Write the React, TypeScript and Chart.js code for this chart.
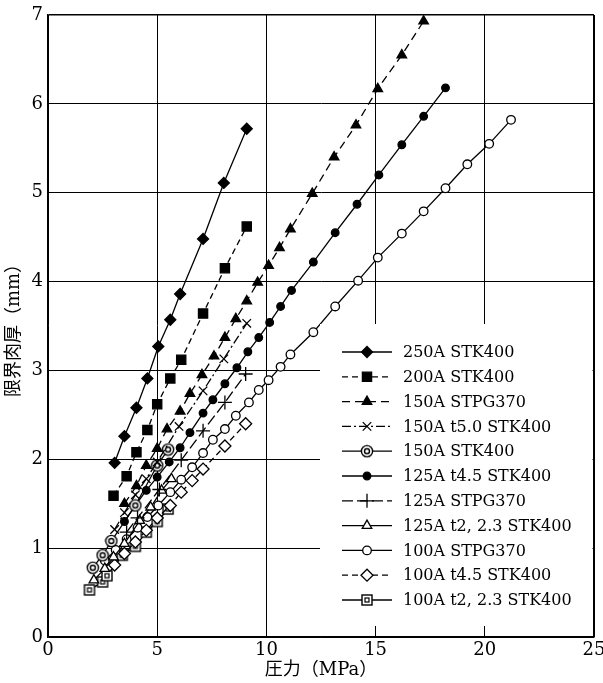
import React, { useEffect, useRef } from "react";
import { Chart, registerables } from "chart.js";
import { drawPoint } from "chart.js/helpers";

Chart.register(...registerables);

// ---- axis ticks ----
const X_MIN = 0;
const X_MAX = 25;
const X_STEP = 5;
const Y_MIN = 0;
const Y_MAX = 7;
const Y_STEP = 1;
const X_TITLE = "圧力（MPa）";
const Y_TITLE = "限界肉厚（mm）";

// ---- series labels ----
const LABELS = [
  "250A STK400",
  "200A STK400",
  "150A STPG370",
  "150A t5.0 STK400",
  "150A STK400",
  "125A t4.5 STK400",
  "125A STPG370",
  "125A t2, 2.3 STK400",
  "100A STPG370",
  "100A t4.5 STK400",
  "100A t2, 2.3 STK400",
];

// ---- series values (pressure MPa, thickness mm) ----
const x250 = [3.05, 3.5, 4.05, 4.55, 5.05, 5.6, 6.05, 7.1, 8.05, 9.1];
const y250 = [1.96, 2.26, 2.58, 2.91, 3.27, 3.57, 3.86, 4.48, 5.11, 5.72];

const x200 = [3.0, 3.6, 4.05, 4.55, 5.0, 5.6, 6.1, 7.1, 8.1, 9.1];
const y200 = [1.59, 1.81, 2.08, 2.33, 2.62, 2.91, 3.12, 3.64, 4.15, 4.62];

const x150pg = [3.5, 4.05, 4.5, 5.0, 5.45, 6.05, 6.5, 7.05, 7.6, 8.1, 8.6, 9.1, 9.6, 10.1, 10.6, 11.1, 12.1, 13.1, 14.1, 15.1, 16.2, 17.2];
const y150pg = [1.5, 1.7, 1.93, 2.12, 2.34, 2.54, 2.74, 2.95, 3.16, 3.37, 3.58, 3.78, 3.99, 4.18, 4.38, 4.59, 4.99, 5.4, 5.76, 6.17, 6.55, 6.93];

const x150t5 = [3.05, 3.5, 4.0, 4.5, 5.0, 6.0, 7.1, 8.05, 9.1];
const y150t5 = [1.21, 1.4, 1.6, 1.78, 1.97, 2.37, 2.77, 3.13, 3.53];

const x150stk = [2.05, 2.5, 2.9, 4.0, 5.0, 5.5];
const y150stk = [0.78, 0.92, 1.08, 1.48, 1.93, 2.11];

const x125t45 = [3.5, 4.0, 4.5, 5.0, 5.55, 6.05, 6.5, 7.1, 7.55, 8.1, 8.65, 9.15, 9.65, 10.15, 10.65, 11.15, 12.15, 13.15, 14.15, 15.15, 16.2, 17.2, 18.2];
const y125t45 = [1.3, 1.48, 1.65, 1.8, 1.97, 2.13, 2.3, 2.52, 2.67, 2.85, 3.03, 3.21, 3.37, 3.54, 3.72, 3.9, 4.22, 4.55, 4.87, 5.2, 5.54, 5.86, 6.18];

const x125pg = [3.6, 4.1, 5.1, 6.1, 7.1, 8.1, 9.05];
const y125pg = [1.18, 1.34, 1.66, 1.99, 2.32, 2.64, 2.96];

const x125t2 = [2.1, 2.6, 3.0, 3.5, 4.2, 4.7, 5.2, 5.65];
const y125t2 = [0.64, 0.77, 0.9, 1.05, 1.31, 1.46, 1.65, 1.78];

const x100pg = [2.6, 3.1, 3.6, 4.1, 4.55, 5.05, 5.6, 6.1, 6.6, 7.1, 7.55, 8.1, 8.6, 9.2, 9.65, 10.1, 10.65, 11.1, 12.15, 13.15, 14.2, 15.1, 16.2, 17.2, 18.2, 19.2, 20.2, 21.2];
const y100pg = [0.86, 0.98, 1.1, 1.23, 1.35, 1.48, 1.63, 1.77, 1.91, 2.07, 2.22, 2.34, 2.49, 2.64, 2.78, 2.89, 3.04, 3.18, 3.43, 3.72, 4.01, 4.27, 4.54, 4.79, 5.05, 5.32, 5.55, 5.82];

const x100t45 = [3.05, 3.5, 4.0, 4.5, 5.0, 5.6, 6.1, 6.6, 7.1, 8.1, 9.05];
const y100t45 = [0.81, 0.94, 1.07, 1.2, 1.34, 1.48, 1.63, 1.76, 1.89, 2.15, 2.4];

const x100t2 = [1.9, 2.5, 2.7, 3.4, 4.0, 4.5, 5.0, 5.5];
const y100t2 = [0.53, 0.62, 0.69, 0.92, 1.02, 1.18, 1.3, 1.44];

const SERIES_X = [x250, x200, x150pg, x150t5, x150stk, x125t45, x125pg, x125t2, x100pg, x100t45, x100t2];
const SERIES_Y = [y250, y200, y150pg, y150t5, y150stk, y125t45, y125pg, y125t2, y100pg, y100t45, y100t2];

const FONT = '"DejaVu Serif", "Noto Sans CJK JP", serif';

function makeDoubleCircle(): HTMLCanvasElement {
  const c = document.createElement("canvas");
  c.width = 14;
  c.height = 14;
  const g = c.getContext("2d")!;
  g.fillStyle = "#fff";
  g.strokeStyle = "#000";
  g.lineWidth = 1.4;
  g.beginPath();
  g.arc(7, 7, 5.6, 0, Math.PI * 2);
  g.fill();
  g.stroke();
  g.beginPath();
  g.arc(7, 7, 2.5, 0, Math.PI * 2);
  g.stroke();
  return c;
}

function makeDoubleSquare(): HTMLCanvasElement {
  const c = document.createElement("canvas");
  c.width = 14;
  c.height = 14;
  const g = c.getContext("2d")!;
  g.fillStyle = "#fff";
  g.strokeStyle = "#000";
  g.lineWidth = 1.4;
  g.fillRect(2, 2, 10, 10);
  g.strokeRect(2, 2, 10, 10);
  g.lineWidth = 1.2;
  g.strokeRect(5, 5, 4, 4);
  return c;
}

const legendPlugin = {
  id: "boxLegend",
  afterDatasetsDraw(chart: any) {
    const ctx = chart.ctx as CanvasRenderingContext2D;
    const area = chart.chartArea;
    const boxLeft = area.right - 274;
    const boxTop = area.bottom - 313;
    const boxBottom = area.bottom - 11;
    ctx.save();
    ctx.fillStyle = "#fff";
    ctx.fillRect(boxLeft, boxTop, area.right - 1.5 - boxLeft, boxBottom - boxTop);
    const rowTop = boxTop + 28;
    const rowGap = 24.8;
    const lineX0 = boxLeft + 22;
    const lineX1 = boxLeft + 72;
    const textX = boxLeft + 83;
    chart.data.datasets.forEach((ds: any, i: number) => {
      const y = rowTop + i * rowGap;
      ctx.strokeStyle = "#000";
      ctx.lineWidth = 1.3;
      ctx.setLineDash(ds.borderDash || []);
      ctx.beginPath();
      ctx.moveTo(lineX0, y);
      ctx.lineTo(lineX1, y);
      ctx.stroke();
      ctx.setLineDash([]);
      ctx.fillStyle = ds.pointBackgroundColor;
      ctx.strokeStyle = "#000";
      ctx.lineWidth = ds.pointBorderWidth;
      drawPoint(
        ctx,
        { pointStyle: ds.pointStyle, radius: ds.pointRadius, rotation: 0, borderWidth: ds.pointBorderWidth } as any,
        (lineX0 + lineX1) / 2,
        y
      );
      ctx.fillStyle = "#000";
      ctx.font = `16px ${FONT}`;
      ctx.textBaseline = "middle";
      ctx.textAlign = "left";
      ctx.fillText(ds.label, textX, y + 1);
    });
    ctx.restore();
  },
};

export default function App() {
  const ref = useRef<HTMLCanvasElement | null>(null);

  useEffect(() => {
    if (!ref.current) return;
    const dCircle = makeDoubleCircle();
    const dSquare = makeDoubleSquare();

    const styles: any[] = [
      { pointStyle: "rectRot", pointRadius: 5.5, fill: "#000", dash: [] },
      { pointStyle: "rect", pointRadius: 6.5, fill: "#000", dash: [6, 4] },
      { pointStyle: "triangle", pointRadius: 5.5, fill: "#000", dash: [8, 5] },
      { pointStyle: "crossRot", pointRadius: 6, fill: "#000", dash: [9, 3, 2, 3] },
      { pointStyle: dCircle, pointRadius: 6, fill: "#fff", dash: [] },
      { pointStyle: "circle", pointRadius: 3.8, fill: "#000", dash: [] },
      { pointStyle: "cross", pointRadius: 7, fill: "#000", dash: [11, 4] },
      { pointStyle: "triangle", pointRadius: 5.5, fill: "#fff", dash: [] },
      { pointStyle: "circle", pointRadius: 4.3, fill: "#fff", dash: [] },
      { pointStyle: "rectRot", pointRadius: 6, fill: "#fff", dash: [6, 4] },
      { pointStyle: dSquare, pointRadius: 6, fill: "#fff", dash: [] },
    ];

    const datasets = LABELS.map((label, i) => ({
      label,
      data: SERIES_X[i].map((x, j) => ({ x, y: SERIES_Y[i][j] })),
      borderColor: "#000",
      borderWidth: 1.3,
      borderDash: styles[i].dash,
      pointStyle: styles[i].pointStyle,
      pointRadius: styles[i].pointRadius,
      pointBackgroundColor: styles[i].fill,
      pointBorderColor: "#000",
      pointBorderWidth: 1.3,
      showLine: true,
      fill: false,
      tension: 0,
    }));

    const chart = new Chart(ref.current, {
      type: "scatter",
      data: { datasets },
      plugins: [legendPlugin],
      options: {
        animation: false,
        responsive: false,
        devicePixelRatio: 1,
        layout: { padding: { left: 0, top: 15, right: 9, bottom: 0 } },
        plugins: {
          legend: { display: false },
          tooltip: { enabled: false },
        },
        font: { family: FONT },
        scales: {
          x: {
            type: "linear",
            min: X_MIN,
            max: X_MAX,
            ticks: {
              stepSize: X_STEP,
              color: "#000",
              font: { family: FONT, size: 18 },
              padding: 3,
              maxRotation: 0,
            },
            grid: {
              color: "#000",
              lineWidth: (c: any) => (c.tick && c.tick.value === X_MAX ? 2 : 1),
              drawTicks: false,
            },
            border: { color: "#000", width: 1.5 },
            title: {
              display: true,
              text: X_TITLE,
              color: "#000",
              font: { family: FONT, size: 18 },
              padding: { top: 0, bottom: 2 },
            },
            afterFit: (s: any) => {
              s.height = 46;
              s.paddingLeft = 0;
              s.paddingRight = 0;
            },
          } as any,
          y: {
            type: "linear",
            min: Y_MIN,
            max: Y_MAX,
            ticks: {
              stepSize: Y_STEP,
              color: "#000",
              font: { family: FONT, size: 18 },
              padding: 5,
            },
            grid: {
              color: "#000",
              lineWidth: (c: any) => (c.tick && c.tick.value === Y_MAX ? 1.5 : 1),
              drawTicks: false,
            },
            border: { color: "#000", width: 1.5 },
            title: {
              display: true,
              text: Y_TITLE,
              color: "#000",
              font: { family: FONT, size: 18 },
              padding: { top: 4, bottom: 0 },
            },
            afterFit: (s: any) => {
              s.width = 48;
              s.paddingTop = 0;
              s.paddingBottom = 0;
            },
          } as any,
        },
      },
    });
    return () => chart.destroy();
  }, []);

  return (
    <div style={{ position: "absolute", left: 0, top: 0, width: 603, height: 683, background: "#fff" }}>
      <canvas ref={ref} width={603} height={683} style={{ display: "block", width: 603, height: 683 }} />
    </div>
  );
}
